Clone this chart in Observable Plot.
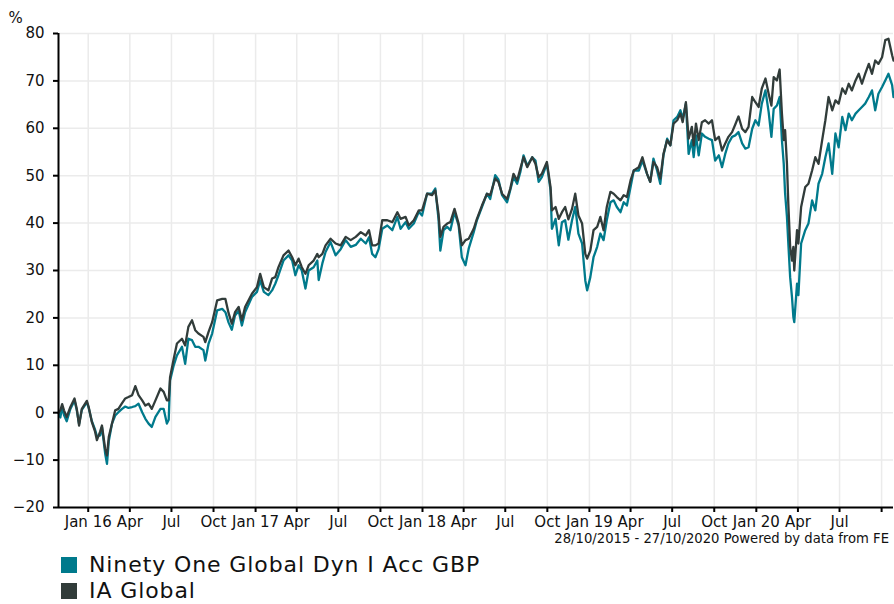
<!DOCTYPE html>
<html><head><meta charset="utf-8">
<script src="https://cdn.jsdelivr.net/npm/d3@7"></script>
<script src="https://cdn.jsdelivr.net/npm/@observablehq/plot@0.6"></script>
<style>
body{margin:0;background:#fff;font-family:"DejaVu Sans",Verdana,sans-serif;}
#wrap{position:relative;width:894px;height:604px;overflow:hidden;}
#caption{position:absolute;right:5px;top:531px;font-size:13.2px;line-height:16px;color:#111;white-space:nowrap;}
.leg{position:absolute;left:61px;display:flex;align-items:center;font-size:22px;letter-spacing:0.9px;line-height:26px;color:#111;white-space:nowrap;height:26px;}
.sw{width:16px;height:16px;margin-right:12px;}
</style></head><body><div id="wrap"></div>
<script>
const dates = ["2015-10-28","2015-11-01","2015-11-05","2015-11-09","2015-11-15","2015-11-23","2015-12-02","2015-12-07","2015-12-12","2015-12-18","2015-12-29",
"2016-01-02","2016-01-09","2016-01-16","2016-01-20","2016-01-27","2016-01-31","2016-02-07","2016-02-11","2016-02-15","2016-02-22","2016-02-29","2016-03-07","2016-03-15","2016-03-22","2016-03-29","2016-04-06","2016-04-13","2016-04-20","2016-04-28","2016-05-05","2016-05-12","2016-05-19","2016-05-27","2016-06-07","2016-06-14","2016-06-21","2016-06-25","2016-06-28","2016-07-06","2016-07-13","2016-07-24","2016-07-31","2016-08-07","2016-08-15","2016-08-22","2016-08-29","2016-09-09","2016-09-13","2016-09-20","2016-09-28","2016-10-09","2016-10-20","2016-10-27","2016-11-03","2016-11-10","2016-11-17","2016-11-25","2016-12-02","2016-12-09","2016-12-24",
"2017-01-04","2017-01-11","2017-01-19","2017-01-29","2017-02-06","2017-02-13","2017-02-20","2017-03-03","2017-03-14","2017-03-22","2017-03-29","2017-04-05","2017-04-12","2017-04-20","2017-04-27","2017-05-08","2017-05-16","2017-05-19","2017-05-27","2017-06-03","2017-06-14","2017-06-25","2017-07-06","2017-07-17","2017-07-28","2017-08-08","2017-08-19","2017-08-30","2017-09-06","2017-09-13","2017-09-20","2017-09-27","2017-10-05","2017-10-16","2017-10-27","2017-11-07","2017-11-14","2017-11-25","2017-12-02","2017-12-13","2017-12-24","2017-12-31",
"2018-01-11","2018-01-22","2018-01-29","2018-02-05","2018-02-09","2018-02-16","2018-02-24","2018-03-03","2018-03-12","2018-03-21","2018-03-28","2018-04-05","2018-04-12","2018-04-23","2018-04-30","2018-05-11","2018-05-22","2018-05-29","2018-06-09","2018-06-16","2018-06-24","2018-07-05","2018-07-12","2018-07-19","2018-07-27","2018-08-03","2018-08-10","2018-08-18","2018-08-29","2018-09-05","2018-09-12","2018-09-19","2018-09-30","2018-10-08","2018-10-11","2018-10-19","2018-10-26","2018-11-02","2018-11-09","2018-11-16","2018-11-24","2018-12-01","2018-12-08","2018-12-16","2018-12-23","2018-12-27",
"2019-01-03","2019-01-10","2019-01-18","2019-01-25","2019-02-01","2019-02-08","2019-02-16","2019-02-23","2019-03-02","2019-03-10","2019-03-17","2019-03-24","2019-04-01","2019-04-08","2019-04-19","2019-04-27","2019-05-07","2019-05-14","2019-05-21","2019-05-29","2019-06-05","2019-06-12","2019-06-20","2019-06-27","2019-07-04","2019-07-12","2019-07-19","2019-07-24","2019-07-31","2019-08-06","2019-08-13","2019-08-17","2019-08-22","2019-08-28","2019-09-04","2019-09-11","2019-09-19","2019-09-26","2019-10-03","2019-10-11","2019-10-18","2019-10-25","2019-11-01","2019-11-09","2019-11-16","2019-11-23","2019-12-01","2019-12-08","2019-12-15","2019-12-23","2019-12-30",
"2020-01-06","2020-01-13","2020-01-21","2020-01-28","2020-02-03","2020-02-08","2020-02-15","2020-02-21","2020-02-26","2020-03-01","2020-03-04","2020-03-08","2020-03-11","2020-03-15","2020-03-19","2020-03-22","2020-03-24","2020-03-30","2020-04-02","2020-04-08","2020-04-17","2020-04-24","2020-05-02","2020-05-09","2020-05-16","2020-05-24","2020-05-31","2020-06-07","2020-06-15","2020-06-22","2020-06-29","2020-07-07","2020-07-14","2020-07-21","2020-07-28","2020-08-05","2020-08-12","2020-08-19","2020-08-26","2020-09-03","2020-09-10","2020-09-17","2020-09-24","2020-10-02","2020-10-09","2020-10-16","2020-10-24","2020-10-27"];

// Ninety One Global Dyn I Acc GBP (teal), % growth
const fund = [0,-1.0,1.2,-0.5,-1.8,0.8,2.6,0.5,-2.4,0.6,2.2,
1.0,-1.8,-3.6,-5.0,-4.8,-3.0,-8.6,-10.8,-6.0,-2.3,-0.6,0.1,0.8,1.3,1.0,1.2,1.4,1.9,0.1,-1.3,-2.3,-3.0,-0.9,0.8,0.8,-2.3,-1.5,6.8,10.0,12.1,13.9,10.3,15.6,15.3,13.9,13.9,13.2,11.0,14.5,16.7,21.6,21.9,21.2,19.0,17.5,20.5,21.5,18.4,21.2,24.4,
25.5,27.9,25.5,24.8,25.8,27.2,29.0,32.1,33.2,32.1,29.0,31.1,30.0,26.2,30.0,30.7,32.1,28.0,31.5,33.9,36.0,33.2,34.5,36.4,35.0,35.4,36.7,35.7,37.0,33.5,32.8,34.5,38.8,39.5,38.5,41.3,38.8,40.2,38.8,39.9,42.4,41.6,
46.2,46.2,47.3,40.9,34.2,38.5,39.2,38.5,42.3,39.5,32.8,31.1,34.6,38.1,40.6,43.4,46.2,45.1,50.1,49.2,45.9,44.4,47.0,49.7,48.3,50.8,54.3,52.1,53.9,53.2,48.7,49.7,52.5,46.9,38.8,40.9,35.3,40.2,40.6,36.5,40.6,43.4,37.8,35.7,27.9,25.8,
28.6,32.8,35.0,37.8,36.4,40.6,44.4,44.8,43.4,42.3,44.4,43.7,47.6,51.1,51.1,53.2,50.4,48.7,53.6,51.1,48.3,54.3,57.8,56.4,61.7,62.4,63.8,62.0,65.2,54.6,57.5,53.9,58.5,54.3,58.9,58.2,57.8,57.5,53.2,54.3,51.8,54.6,56.8,58.2,58.5,59.2,56.8,55.7,56.0,59.9,61.7,
60.6,65.2,68.0,63.4,58.2,64.1,64.8,66.6,57.5,52.5,46.2,41.3,35.7,28.6,24.4,20.2,19.1,27.2,24.8,35.7,38.5,39.9,44.8,42.7,48.3,50.4,53.9,56.8,50.4,58.9,56.0,62.4,59.6,63.1,61.7,63.1,63.8,64.5,65.2,66.6,68.0,63.8,67.3,68.7,70.1,71.5,69.1,66.6];

// IA Global sector (dark), % growth
const sector = [0,0.5,1.8,0.5,-0.9,1.2,3.0,0.8,-2.7,0.8,2.5,
1.2,-2.0,-4.0,-5.8,-4.0,-2.7,-7.6,-9.0,-5.1,-2.3,0.5,0.8,2.0,3.0,3.3,3.7,5.6,3.7,2.6,1.5,1.9,0.8,2.6,5.1,4.4,2.6,2.6,7.5,11.4,14.6,15.6,14.2,18.1,19.5,17.4,16.7,16.0,14.9,17.0,19.1,23.7,24.0,24.0,21.0,18.8,21.2,22.3,19.5,22.3,25.1,
26.5,29.3,26.5,25.8,28.3,28.6,30.7,33.2,34.2,32.8,31.1,32.5,30.7,29.3,31.1,32.1,33.5,32.8,33.5,35.3,36.7,35.7,35.3,37.1,36.4,37.1,38.1,37.4,38.5,35.3,35.3,35.7,40.6,40.6,40.2,42.3,40.9,41.3,39.5,40.6,42.7,42.7,
46.2,45.9,46.9,42.0,37.1,39.2,39.9,40.2,43.0,39.9,35.3,36.4,36.7,38.8,40.9,43.7,46.2,45.9,49.4,48.7,46.2,45.1,47.3,50.4,49.0,51.5,53.9,51.8,53.9,52.5,49.7,50.4,52.9,47.6,42.7,43.4,40.9,42.3,43.4,40.8,43.0,46.2,41.6,39.9,33.5,32.5,
34.2,38.5,39.2,41.3,38.5,43.4,46.6,46.2,45.5,44.8,45.9,45.5,49.0,51.1,51.8,53.9,50.4,48.7,52.9,51.8,49.4,54.6,57.5,56.4,61.0,61.7,63.1,61.3,65.5,57.8,60.3,56.4,61.0,57.5,61.3,61.7,61.0,61.7,57.5,58.2,55.3,56.8,58.2,59.2,60.8,62.5,59.9,59.2,60.3,66.6,65.5,
64.5,68.4,70.5,67.3,64.8,70.8,70.1,72.4,63.1,57.5,59.6,52.5,44.1,35.0,32.1,35.0,30.0,38.5,35.7,43.4,47.6,48.3,51.1,53.9,52.5,57.5,61.7,66.6,63.8,65.9,65.2,68.4,67.3,69.4,68.0,70.1,71.5,69.4,71.5,73.6,71.5,74.3,73.6,75.0,78.6,78.9,75.4,74.3];

const seriesNames = ["Ninety One Global Dyn I Acc GBP", "IA Global"];
const seriesColors = ["#007a8c", "#313c3a"];
const xTicks = ["2016-01-01","2016-04-01","2016-07-01","2016-10-01","2017-01-01","2017-04-01","2017-07-01","2017-10-01","2018-01-01","2018-04-01","2018-07-01","2018-10-01","2019-01-01","2019-04-01","2019-07-01","2019-10-01","2020-01-01","2020-04-01","2020-07-01","2020-10-01"];
const xTickLabels = ["Jan 16","Apr","Jul","Oct","Jan 17","Apr","Jul","Oct","Jan 18","Apr","Jul","Oct","Jan 19","Apr","Jul","Oct","Jan 20","Apr","Jul",""];
const yTicks = [-20,-10,0,10,20,30,40,50,60,70,80];
const yUnit = "%";
const xStart = "2015-10-28", xEnd = "2020-10-27";
const caption = "28/10/2015 - 27/10/2020 Powered by data from FE";

const rows = dates.map((d, i) => ({date: new Date(d), fund: fund[i], sector: sector[i]}));
const tickDates = xTicks.map(d => new Date(d));
const labelFor = new Map(xTicks.map((d, i) => [+new Date(d), xTickLabels[i]]));

const chart = Plot.plot({
  width: 894, height: 548,
  marginLeft: 58, marginRight: 1, marginTop: 33, marginBottom: 41,
  style: {fontFamily: "'DejaVu Sans', Verdana, sans-serif", fontSize: "15px", color: "#111", background: "#fff"},
  x: {type: "utc", domain: [new Date(xStart), new Date(xEnd)]},
  y: {domain: [-20, 80]},
  marks: [
    Plot.gridX(tickDates, {stroke: "#ebebeb", strokeOpacity: 1, strokeWidth: 1.5}),
    Plot.gridY(yTicks, {stroke: "#ebebeb", strokeOpacity: 1, strokeWidth: 1.5}),
    Plot.lineY(rows, {x: "date", y: "fund", stroke: seriesColors[0], strokeWidth: 2.3}),
    Plot.lineY(rows, {x: "date", y: "sector", stroke: seriesColors[1], strokeWidth: 2.3}),
    Plot.ruleX([new Date(xStart)], {stroke: "#000", strokeWidth: 2}),
    Plot.ruleY([-20], {stroke: "#000", strokeWidth: 2}),
    Plot.axisX(tickDates, {tickFormat: d => labelFor.get(+d), tickSize: 5, tickPadding: 4, label: null, stroke: "#000", strokeWidth: 2}),
    Plot.axisY(yTicks, {tickSize: 5, tickPadding: 9, label: null, stroke: "#000", strokeWidth: 2}),
    Plot.text([yUnit], {frameAnchor: "top-left", textAnchor: "middle", lineAnchor: "middle", dx: -43, dy: -15, fontSize: 15, fill: "#111"})
  ]
});

const wrap = document.getElementById("wrap");
wrap.appendChild(chart);
const cap = document.createElement("div");
cap.id = "caption"; cap.textContent = caption;
wrap.appendChild(cap);
seriesNames.forEach((name, i) => {
  const row = document.createElement("div");
  row.className = "leg";
  row.style.top = (552 + i * 26) + "px";
  const sw = document.createElement("div");
  sw.className = "sw"; sw.style.background = seriesColors[i];
  const t = document.createElement("span"); t.textContent = name;
  row.appendChild(sw); row.appendChild(t);
  wrap.appendChild(row);
});
</script></body></html>
